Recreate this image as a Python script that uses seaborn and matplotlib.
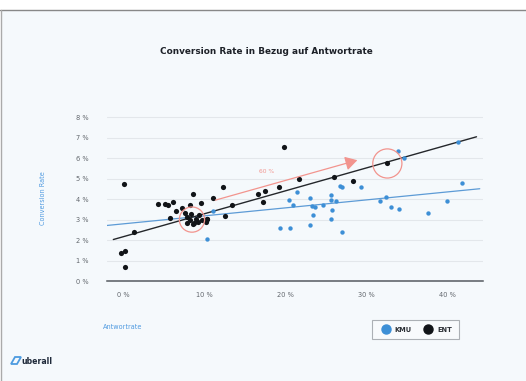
import numpy as np
import pandas as pd
import matplotlib
matplotlib.use("Agg")
import matplotlib.pyplot as plt
from matplotlib.lines import Line2D
from matplotlib.patches import Polygon
import seaborn as sns

# Antwortrate (%) and Conversion Rate (%) per location group
kmu_x = [10.3, 11.1, 19.4, 20.6, 20.5, 21.0, 21.4, 23.1, 23.3, 23.7, 23.4, 23.1,
         24.7, 25.7, 25.6, 26.3, 25.8, 25.7, 27.0, 26.7, 27.0, 29.4, 31.7, 32.4,
         33.1, 34.1, 37.6, 39.9, 41.8, 33.9, 34.7, 41.3]
kmu_y = [2.03, 3.41, 2.59, 2.60, 3.94, 3.69, 4.34, 4.06, 3.66, 3.60, 3.22, 2.75,
         3.69, 4.20, 3.98, 3.92, 3.46, 3.04, 2.37, 4.63, 4.57, 4.57, 3.92, 4.08,
         3.61, 3.50, 3.30, 3.92, 4.80, 6.36, 6.03, 6.80]

ent_x = [0.1, -0.2, 0.2, 0.2, 1.3, 4.3, 5.2, 5.6, 6.1, 5.8, 6.5, 7.3, 8.3,
         8.6, 9.6, 11.1, 12.3, 10.3, 12.6, 13.5,
         7.9, 8.2, 8.8, 9.0, 9.4, 9.7, 10.2, 8.6, 7.9, 8.4, 9.2, 10.4, 7.6,
         16.7, 17.5, 17.3, 19.2, 19.9, 21.7, 26.0, 28.4, 32.6]
ent_y = [4.73, 1.38, 1.48, 0.70, 2.37, 3.77, 3.76, 3.69, 3.87, 3.06, 3.41, 3.57, 3.72,
         4.24, 3.79, 4.06, 4.57, 3.02, 3.17, 3.69,
         3.12, 2.97, 2.83, 3.05, 3.20, 3.00, 2.90, 2.78, 2.85, 3.25, 2.90, 3.05, 3.30,
         4.24, 4.38, 3.85, 4.57, 6.52, 5.00, 5.07, 4.86, 5.74]

# linear trend per group: (intercept, slope, x start, x end)
kmu_trend = (2.79, 0.039, -2.0, 44.0)
ent_trend = (2.16, 0.112, -1.2, 43.6)

groups = ["KMU", "ENT"]
colors = {"KMU": "#3d8fd6", "ENT": "#111418"}
x_ticks = [0, 10, 20, 30, 40]
y_ticks = [0, 1, 2, 3, 4, 5, 6, 7, 8]

# highlighted growth between the two reference points
growth_start = (11.4, 3.95)
growth_end = (28.9, 5.90)
growth_label = "60 %"
growth_label_pos = (17.7, 5.33)
highlight_x = [8.5, 32.6]
highlight_y = [3.0, 5.74]

df = pd.DataFrame({
    "Antwortrate": kmu_x + ent_x,
    "Conversion Rate": kmu_y + ent_y,
    "Gruppe": ["KMU"] * len(kmu_x) + ["ENT"] * len(ent_x),
})

sns.set_theme(style="white")
plt.rcParams["font.family"] = ["DejaVu Sans"]

bg = "#f5f9fc"
fig = plt.figure(figsize=(5.26, 3.81), dpi=100)
fig.patch.set_facecolor("white")
# panel background with thin grey frame lines
fig.patches.append(plt.Rectangle((0.003, 0), 0.997, 1 - 10 / 381, transform=fig.transFigure,
                                 facecolor=bg, edgecolor="none", zorder=-10))
fig.add_artist(Line2D([0, 1], [1 - 9.5 / 381] * 2, color="#888888", lw=1.0, transform=fig.transFigure))
fig.add_artist(Line2D([0.0025, 0.0025], [0, 1 - 9.5 / 381], color="#aaaaaa", lw=1.0, transform=fig.transFigure))

ax = fig.add_axes([107 / 526, 1 - 281 / 381, 376 / 526, 172 / 381])
ax.set_facecolor(bg)

sns.scatterplot(data=df[df["Gruppe"] == "ENT"], x="Antwortrate", y="Conversion Rate",
                color=colors["ENT"], s=14, linewidth=0, ax=ax, zorder=3, legend=False)
sns.scatterplot(data=df[df["Gruppe"] == "KMU"], x="Antwortrate", y="Conversion Rate",
                color=colors["KMU"], s=10, linewidth=0, ax=ax, zorder=3, legend=False)

for (b0, b1, xa, xb), c, lw in [(kmu_trend, "#5d9bd6", 0.9), (ent_trend, "#24272b", 1.0)]:
    xs = np.array([xa, xb])
    ax.plot(xs, b0 + b1 * xs, color=c, lw=lw, zorder=2)

red = "#f2948e"
ax.annotate("", xy=growth_end, xytext=growth_start,
            arrowprops=dict(arrowstyle="-|>,head_length=0.6,head_width=0.35", color=red, lw=0.9,
                            shrinkA=0, shrinkB=0), zorder=4)
ax.text(*growth_label_pos, growth_label, color=red, fontsize=4.3, ha="center", va="center")
ax.scatter(highlight_x, highlight_y, s=[330, 440], facecolors="none", edgecolors=red,
           linewidths=0.9, zorder=4)

ax.set_xlim(-1.98, 44.4)
ax.set_ylim(0, 8.4)
ax.set_xticks(x_ticks)
ax.set_xticklabels([f"{v} %" for v in x_ticks])
ax.set_yticks(y_ticks)
ax.set_yticklabels([f"{v} %" for v in y_ticks])
ax.tick_params(axis="both", length=0, labelsize=4.8, labelcolor="#62676d")
ax.tick_params(axis="y", pad=13)
ax.tick_params(axis="x", pad=8)
ax.grid(axis="y", color="#e3e7eb", lw=0.8)
ax.set_axisbelow(True)
for side in ["top", "right", "left"]:
    ax.spines[side].set_visible(False)
ax.spines["bottom"].set_color("#555a60")
ax.spines["bottom"].set_linewidth(1.1)
ax.set_xlabel("")
ax.set_ylabel("")

fig.text(266 / 526, 1 - 51 / 381, "Conversion Rate in Bezug auf Antwortrate",
         ha="center", va="center", fontsize=6.4, fontweight="bold", color="#1d2128")
fig.text(43 / 526, 1 - 198 / 381, "Conversion Rate", rotation=90, ha="center", va="center",
         fontsize=4.7, color="#4f9ae0")
fig.text(103 / 526, 1 - 327 / 381, "Antwortrate", ha="left", va="center",
         fontsize=4.7, color="#4f9ae0")

handles = [Line2D([], [], marker="o", ls="", markersize=6.5, color=colors[g], label=g) for g in groups]
leg = fig.legend(handles=handles, loc="center", bbox_to_anchor=(415.5 / 526, 1 - 329.5 / 381),
                 ncol=2, frameon=True, fontsize=4.8, handletextpad=0.4, columnspacing=1.4,
                 borderpad=1.0, fancybox=False)
leg.get_frame().set_edgecolor("#9a9ea3")
leg.get_frame().set_linewidth(0.8)
leg.get_frame().set_facecolor("#f9fbfd")
for t in leg.get_texts():
    t.set_fontweight("bold")
    t.set_color("#2a2e34")

# brand mark
fig.add_artist(Polygon([(11 / 526, 1 - 364 / 381), (15 / 526, 1 - 357 / 381),
                        (21 / 526, 1 - 357 / 381), (17 / 526, 1 - 364 / 381)],
                       closed=True, facecolor="none", edgecolor="#4d9be0", lw=1.3,
                       transform=fig.transFigure))
fig.text(21 / 526, 1 - 361 / 381, "uberall", ha="left", va="center", fontsize=5.6,
         fontweight="bold", color="#1f2a3a")

fig.savefig("out.png", dpi=100, facecolor=fig.get_facecolor())
